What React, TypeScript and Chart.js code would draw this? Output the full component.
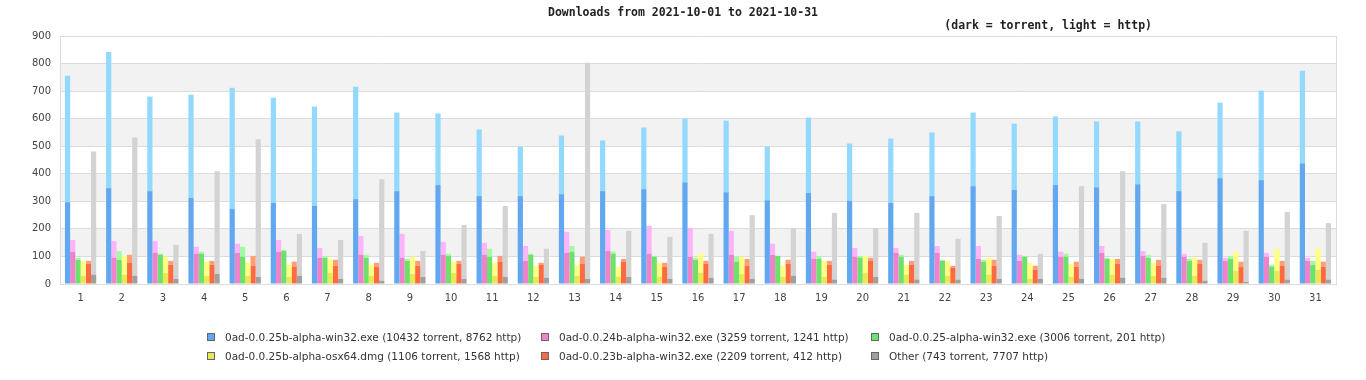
import React, { useEffect, useRef } from "react";
import { Chart, registerables } from "chart.js";

Chart.register(...registerables);

const days = Array.from({ length: 31 }, (_, i) => String(i + 1));

const seriesNames = [
  "0ad-0.0.25b-alpha-win32.exe (10432 torrent, 8762 http)",
  "0ad-0.0.24b-alpha-win32.exe (3259 torrent, 1241 http)",
  "0ad-0.0.25-alpha-win32.exe (3006 torrent, 201 http)",
  "0ad-0.0.25b-alpha-osx64.dmg (1106 torrent, 1568 http)",
  "0ad-0.0.23b-alpha-win32.exe (2209 torrent, 412 http)",
  "Other (743 torrent, 7707 http)",
];

const darkColors = ["#62a8f0", "#f082cc", "#6ce26c", "#e8e852", "#ff6a40", "#a0a0a0"];
const lightColors = ["#93d9fd", "#ffb3f8", "#a2fca2", "#ffff82", "#ff9d74", "#d3d3d3"];

// torrent (dark) and total (top of light) values per day
const win25bTorrent = [297, 348, 337, 312, 272, 294, 283, 308, 337, 359, 319, 319, 326, 337, 344, 369, 333, 304, 330, 301, 294, 319, 355, 341, 359, 351, 362, 337, 384, 377, 438];
const win25bTotal = [756, 842, 680, 687, 712, 676, 644, 716, 622, 619, 561, 499, 539, 521, 568, 600, 593, 499, 604, 510, 528, 550, 622, 582, 608, 590, 590, 554, 658, 702, 774];
const win24bTorrent = [117, 95, 113, 110, 113, 117, 95, 106, 95, 106, 106, 84, 113, 120, 110, 99, 106, 106, 91, 99, 113, 113, 91, 84, 99, 113, 102, 99, 84, 99, 84];
const win24bTotal = [160, 156, 156, 135, 146, 160, 131, 174, 182, 153, 149, 138, 189, 196, 211, 203, 193, 146, 117, 131, 131, 138, 138, 106, 117, 138, 120, 110, 95, 113, 95];
const win25Torrent = [88, 88, 106, 110, 99, 120, 95, 95, 84, 102, 99, 106, 117, 110, 99, 88, 81, 102, 91, 95, 99, 84, 81, 99, 99, 91, 95, 84, 91, 63, 70];
const win25Total = [95, 120, 110, 117, 135, 124, 102, 106, 91, 110, 128, 110, 138, 117, 102, 95, 99, 102, 102, 102, 106, 88, 88, 102, 110, 95, 106, 91, 102, 70, 84];
const osx25bTorrent = [30, 34, 41, 30, 30, 26, 41, 30, 37, 41, 30, 26, 30, 26, 26, 41, 37, 26, 26, 41, 34, 30, 34, 19, 26, 34, 30, 30, 48, 48, 52];
const osx25bTotal = [84, 102, 99, 81, 77, 70, 91, 70, 99, 81, 77, 66, 70, 63, 77, 110, 99, 66, 84, 102, 70, 84, 95, 77, 73, 91, 77, 95, 117, 128, 128];
const win23bTorrent = [73, 77, 70, 70, 66, 63, 66, 63, 66, 73, 81, 70, 73, 81, 63, 73, 66, 73, 70, 84, 70, 59, 66, 52, 63, 73, 66, 73, 63, 66, 63];
const win23bTotal = [84, 106, 84, 84, 102, 81, 88, 77, 84, 84, 102, 77, 99, 91, 77, 84, 91, 88, 84, 95, 84, 66, 88, 66, 81, 91, 88, 88, 81, 84, 81];
const otherTorrent = [34, 30, 19, 37, 26, 30, 19, 12, 26, 19, 26, 23, 19, 26, 19, 23, 19, 30, 16, 26, 16, 16, 19, 19, 19, 23, 23, 12, 8, 16, 16];
const otherTotal = [481, 532, 142, 409, 525, 182, 160, 380, 120, 214, 283, 128, 803, 193, 171, 182, 250, 200, 258, 203, 258, 164, 247, 110, 355, 409, 290, 149, 193, 261, 221];

const torrentSeries = [win25bTorrent, win24bTorrent, win25Torrent, osx25bTorrent, win23bTorrent, otherTorrent];
const totalSeries = [win25bTotal, win24bTotal, win25Total, osx25bTotal, win23bTotal, otherTotal];

const yMax = 900;
const yStep = 100;

const titleText = "Downloads from 2021-10-01 to 2021-10-31";
const subtitleText = "(dark = torrent, light = http)";

const bandsPlugin = {
  id: "bands",
  beforeDraw(chart: any) {
    const { ctx, chartArea, scales } = chart;
    const y = scales.y;
    ctx.save();
    ctx.fillStyle = "#f2f2f2";
    for (let v = 100; v < yMax; v += 200) {
      const top = y.getPixelForValue(v + yStep);
      const bottom = y.getPixelForValue(v);
      ctx.fillRect(chartArea.left, top, chartArea.right - chartArea.left, bottom - top);
    }
    ctx.restore();
  },
};

const textPlugin = {
  id: "texts",
  afterDraw(chart: any) {
    const { ctx, chartArea } = chart;
    ctx.save();
    ctx.fillStyle = "#222";
    ctx.font = "bold 11.5px 'DejaVu Sans Mono'";
    ctx.textBaseline = "middle";
    ctx.textAlign = "center";
    ctx.fillText(titleText, 683, 13);
    ctx.textAlign = "right";
    ctx.fillText(subtitleText, chartArea.right - 184, 26);
    ctx.restore();
  },
};

export default function App() {
  const ref = useRef<HTMLCanvasElement | null>(null);

  useEffect(() => {
    document.body.style.margin = "0";
    const datasets: any[] = [];
    for (let s = 0; s < 6; s++) {
      datasets.push({
        label: seriesNames[s] + " torrent",
        stack: "s" + s,
        data: torrentSeries[s],
        backgroundColor: darkColors[s],
        borderWidth: 0,
        categoryPercentage: 0.76,
        barPercentage: 1.0,
      });
      datasets.push({
        label: seriesNames[s] + " http",
        stack: "s" + s,
        data: totalSeries[s].map((t, i) => Math.max(0, t - torrentSeries[s][i])),
        backgroundColor: lightColors[s],
        borderWidth: 0,
        categoryPercentage: 0.76,
        barPercentage: 1.0,
      });
    }
    const chart = new Chart(ref.current as HTMLCanvasElement, {
      type: "bar",
      data: { labels: days, datasets },
      plugins: [bandsPlugin, textPlugin],
      options: {
        responsive: false,
        animation: false,
        layout: { padding: { top: 36, right: 30, left: 0, bottom: 76 } },
        plugins: { legend: { display: false }, tooltip: { enabled: false }, title: { display: false } },
        scales: {
          x: {
            stacked: true,
            afterFit: (s: any) => { s.height = 20; },
            grid: { display: false, drawTicks: false },
            border: { display: true, color: "#dcdcdc" },
            ticks: { color: "#444", font: { family: "'DejaVu Sans'", size: 10 }, padding: 8, maxRotation: 0, autoSkip: false },
          },
          y: {
            stacked: true,
            min: 0,
            max: yMax,
            afterFit: (s: any) => { s.width = 60; },
            grid: { color: "#dcdcdc", drawTicks: false },
            border: { display: true, color: "#dcdcdc" },
            ticks: { stepSize: yStep, color: "#444", font: { family: "'DejaVu Sans'", size: 10 }, padding: 9 },
          },
          y2: {
            position: "right",
            min: 0,
            max: yMax,
            afterFit: (s: any) => { s.width = 0; },
            grid: { display: false, drawTicks: false },
            border: { display: true, color: "#dcdcdc" },
            ticks: { display: false },
          },
        },
      },
    });
    return () => chart.destroy();
  }, []);

  const cols = [207, 541, 871];
  const rows = [337, 356];

  return (
    <div style={{ position: "relative", width: 1366, height: 380, overflow: "hidden" }}>
      <canvas ref={ref} width={1366} height={380} style={{ display: "block" }} />
      {seriesNames.map((name, i) => {
        const c = i % 3;
        const r = Math.floor(i / 3);
        return (
          <div
            key={name}
            style={{
              position: "absolute",
              left: cols[c],
              top: rows[r] - 7,
              height: 14,
              display: "flex",
              alignItems: "center",
              whiteSpace: "nowrap",
              fontFamily: "'DejaVu Sans', sans-serif",
              fontSize: 10.5,
              color: "#333",
            }}
          >
            <span
              style={{
                display: "inline-block",
                width: 6,
                height: 6,
                background: darkColors[i],
                border: "1px solid #666",
                marginRight: 10,
              }}
            />
            {name}
          </div>
        );
      })}
    </div>
  );
}
